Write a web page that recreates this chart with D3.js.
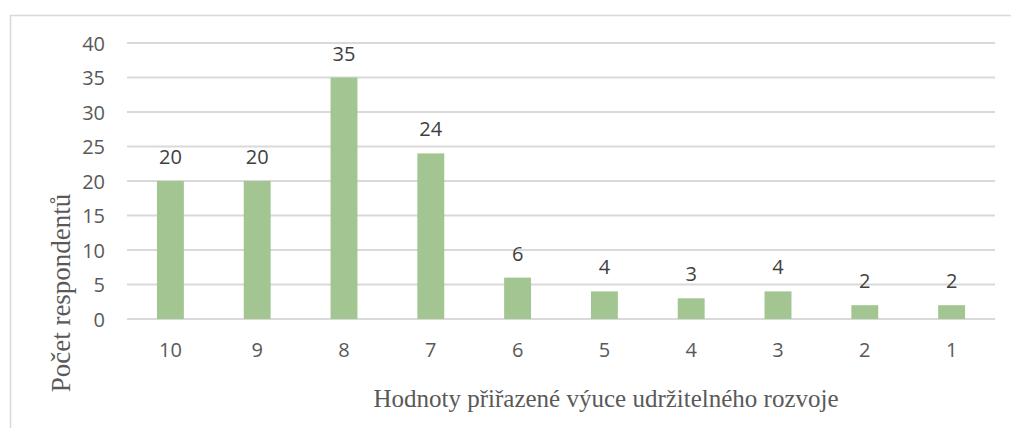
<!DOCTYPE html>
<html>
<head>
<meta charset="utf-8">
<script src="https://cdn.jsdelivr.net/npm/d3@7"></script>
<style>
  body { margin: 0; background: #fff; }
  svg { display: block; }
</style>
</head>
<body>
<div id="chart"></div>
<script>
var categories = ["10", "9", "8", "7", "6", "5", "4", "3", "2", "1"];
var counts = [20, 20, 35, 24, 6, 4, 3, 4, 2, 2];
var yTicks = [0, 5, 10, 15, 20, 25, 30, 35, 40];
var yTitle = "Počet respondentů";
var xTitle = "Hodnoty přiřazené výuce udržitelného rozvoje";

var width = 1011, height = 428;
var plotL = 127, plotR = 995, plotT = 43, plotB = 319;

var svg = d3.select("#chart").append("svg")
  .attr("width", width).attr("height", height);

// outer chart border (runs off the right and bottom edge)
svg.append("rect")
  .attr("x", 10.5).attr("y", 15.5)
  .attr("width", 1010).attr("height", 430)
  .attr("fill", "none").attr("stroke", "#d9d9d9").attr("stroke-width", 1.5);

var x = d3.scaleBand().domain(categories).range([plotL, plotR])
  .paddingInner(0.69).paddingOuter(0.345);
var y = d3.scaleLinear().domain([0, 40]).range([plotB, plotT]);

// gridlines
svg.append("g").selectAll("line").data(yTicks).enter().append("line")
  .attr("x1", plotL).attr("x2", plotR)
  .attr("y1", function(d) { return y(d); })
  .attr("y2", function(d) { return y(d); })
  .attr("stroke", "#d9d9d9").attr("stroke-width", 2);

// y tick labels
var yAxis = d3.axisLeft(y).tickValues(yTicks).tickSize(0).tickPadding(0);
var gy = svg.append("g").attr("transform", "translate(105,0)").call(yAxis);
gy.select(".domain").remove();
gy.selectAll("text")
  .attr("font-family", "'Open Sans', sans-serif")
  .attr("font-size", 20).attr("fill", "#595959").attr("dy", "0.35em");

// x tick labels
var xAxis = d3.axisBottom(x).tickSize(0).tickPadding(0);
var gx = svg.append("g").attr("transform", "translate(0,357)").call(xAxis);
gx.select(".domain").remove();
gx.selectAll("text")
  .attr("font-family", "'Open Sans', sans-serif")
  .attr("font-size", 20).attr("fill", "#595959").attr("dy", 0);

// bars
svg.append("g").selectAll("rect").data(counts).enter().append("rect")
  .attr("x", function(d, i) { return x(categories[i]); })
  .attr("y", function(d) { return y(d); })
  .attr("width", x.bandwidth())
  .attr("height", function(d) { return y(0) - y(d); })
  .attr("fill", "#a2c591");

// data labels
svg.append("g").selectAll("text").data(counts).enter().append("text")
  .attr("x", function(d, i) { return x(categories[i]) + x.bandwidth() / 2; })
  .attr("y", function(d) { return y(d) - 17; })
  .attr("text-anchor", "middle")
  .attr("font-family", "'Open Sans', sans-serif")
  .attr("font-size", 20).attr("fill", "#404040")
  .text(function(d) { return d; });

// axis titles
svg.append("text")
  .attr("transform", "translate(70,293) rotate(-90)")
  .attr("text-anchor", "middle")
  .attr("font-family", "'Liberation Serif', 'Times New Roman', serif")
  .attr("font-size", 27).attr("fill", "#595959")
  .text(yTitle);

svg.append("text")
  .attr("x", 606).attr("y", 407)
  .attr("text-anchor", "middle")
  .attr("font-family", "'Liberation Serif', 'Times New Roman', serif")
  .attr("font-size", 25).attr("fill", "#595959")
  .text(xTitle);
</script>
</body>
</html>
